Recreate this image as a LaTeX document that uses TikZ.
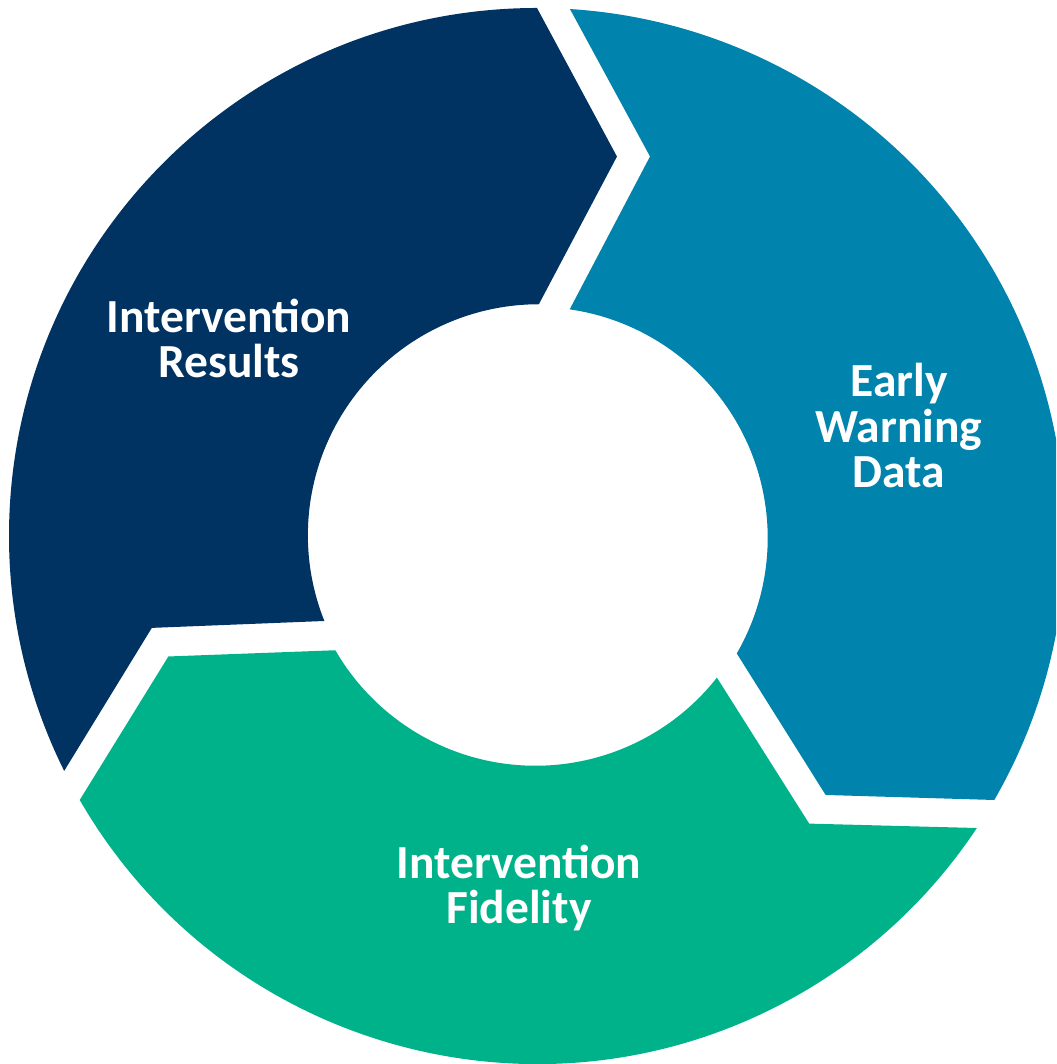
\documentclass[tikz,border=0pt]{standalone}
\usepackage{fontspec}
\setmainfont{Carlito}
\definecolor{navyseg}{HTML}{003361}
\definecolor{blueseg}{HTML}{0083AC}
\definecolor{greenseg}{HTML}{00B289}
\tikzset{
  seglabel/.style={text=white,font=\bfseries\fontsize{47.5}{45.5}\selectfont,align=center,inner sep=0pt,anchor=base},
  segshape/.pic={
    \fill[pic actions] (90:528) arc[start angle=90,end angle=206.42,radius=528]
      -- (193.42:396) -- (201.79:229)
      arc[start angle=201.79,end angle=90,radius=231]
      -- (78.10:387.8) -- cycle;
  }
}
\begin{document}
\begin{tikzpicture}[x=1pt,y=1pt]
\clip (0,0) rectangle (1056,1064);
\fill[white] (0,0) rectangle (1056,1064);
\coordinate (c) at (537,528);
\pic[fill=navyseg] at (c) {segshape};
\pic[fill=blueseg,rotate=-120] at (c) {segshape};
\pic[fill=greenseg,rotate=120] at (c) {segshape};
\node[seglabel] (results) at (229,686) {Intervention\\Results};
\node[seglabel] (early) at (899,576) {Early\\Warning\\Data};
\node[seglabel] (fidelity) at (519,140) {Intervention\\Fidelity};
\end{tikzpicture}
\end{document}
